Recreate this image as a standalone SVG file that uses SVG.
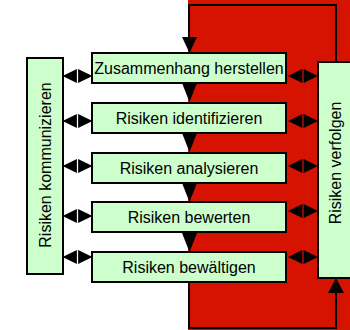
<svg xmlns="http://www.w3.org/2000/svg" width="350" height="330" viewBox="0 0 350 330">
<style>
.box{fill:#ccffcc;stroke:#000;stroke-width:2}
.t{font-family:"Liberation Sans",Arial,sans-serif;font-size:16px;fill:#000}
.ln{fill:none;stroke:#000;stroke-width:2}
.ah{fill:#000}
</style>
<defs>
<g id="dbl">
<polygon points="-15,0 -0.6,-7 -0.6,7"/>
<polygon points="15,0 0.6,-7 0.6,7"/>
</g>
</defs>
<rect x="188" y="0" width="162" height="330" fill="#d61200"/>
<g id="connectors">
<polyline class="ln" points="336,62 336,5 189,5 189,40"/>
<polygon class="ah" points="182,37 197,37 189.5,53"/>
<polyline class="ln" points="189,282 189,328 336,328 336,292"/>
<polygon class="ah" points="328,293 344,293 336,278"/>
<line class="ln" x1="189" y1="83" x2="189" y2="90"/>
<polygon class="ah" points="182,83 197,83 189.5,102"/>
<line class="ln" x1="189" y1="133" x2="189" y2="140"/>
<polygon class="ah" points="182,133 197,133 189.5,152"/>
<line class="ln" x1="189" y1="183" x2="189" y2="190"/>
<polygon class="ah" points="182,183 197,183 189.5,202"/>
<line class="ln" x1="189" y1="232" x2="189" y2="240"/>
<polygon class="ah" points="182,233 197,233 189.5,252"/>
<g class="ah">
<use href="#dbl" x="77.5" y="76"/>
<use href="#dbl" x="77.5" y="121"/>
<use href="#dbl" x="77.5" y="166"/>
<use href="#dbl" x="77.5" y="216"/>
<use href="#dbl" x="77.5" y="257"/>
<use href="#dbl" x="303" y="76"/>
<use href="#dbl" x="303" y="121"/>
<use href="#dbl" x="303" y="166"/>
<use href="#dbl" x="303" y="211"/>
<use href="#dbl" x="303" y="257"/>
</g>
</g>
<g id="n-kommunizieren">
<rect class="box" x="27" y="58" width="36" height="216"/>
<text class="t" transform="translate(51,165) rotate(-90)" text-anchor="middle">Risiken kommunizieren</text>
</g>
<g id="n-verfolgen">
<rect class="box" x="318" y="62" width="40" height="216"/>
<text class="t" transform="translate(341,163) rotate(-90)" text-anchor="middle">Risiken verfolgen</text>
</g>
<g id="n-zusammenhang">
<rect class="box" x="92" y="53" width="194" height="30"/>
<text class="t" x="189" y="74" text-anchor="middle">Zusammenhang herstellen</text>
</g>
<g id="n-identifizieren">
<rect class="box" x="92" y="103" width="194" height="30"/>
<text class="t" x="189" y="124" text-anchor="middle">Risiken identifizieren</text>
</g>
<g id="n-analysieren">
<rect class="box" x="92" y="153" width="194" height="30"/>
<text class="t" x="189" y="174" text-anchor="middle">Risiken analysieren</text>
</g>
<g id="n-bewerten">
<rect class="box" x="92" y="202" width="194" height="30"/>
<text class="t" x="189" y="223" text-anchor="middle">Risiken bewerten</text>
</g>
<g id="n-bewaeltigen">
<rect class="box" x="92" y="252" width="194" height="30"/>
<text class="t" x="189" y="273" text-anchor="middle">Risiken bewältigen</text>
</g>
</svg>
